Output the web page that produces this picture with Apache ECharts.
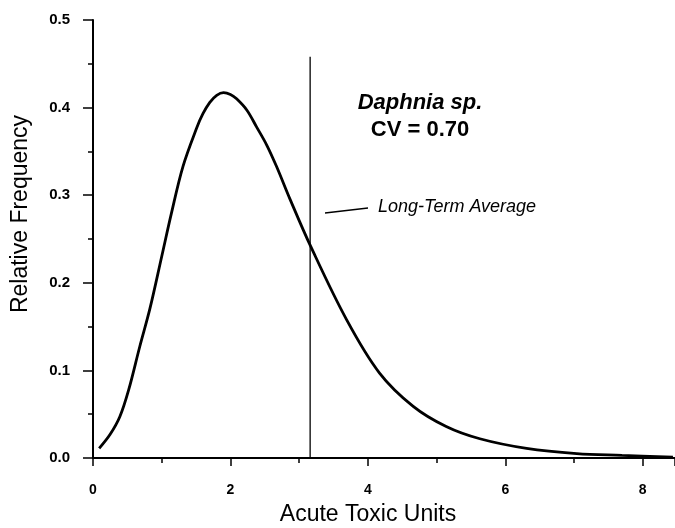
<!DOCTYPE html>
<html><head><meta charset="utf-8">
<script src="https://cdn.jsdelivr.net/npm/echarts@6/dist/echarts.min.js"></script>
<style>html,body{margin:0;padding:0;background:#fff}#c{width:675px;height:528px}</style>
</head><body><div id="c"></div>
<script>
const curveX = [0.09,0.25,0.39,0.52,0.68,0.83,1.0,1.14,1.31,1.51,1.60,1.70,1.80,1.90,2.00,2.09,2.24,2.38,2.53,2.67,2.87,3.16,3.69,4.17,4.66,5.14,5.63,6.31,7.04,7.7,8.44];
const curveY = [0.011,0.027,0.047,0.078,0.127,0.171,0.230,0.279,0.333,0.377,0.393,0.406,0.414,0.417,0.415,0.410,0.397,0.378,0.357,0.333,0.295,0.243,0.158,0.097,0.059,0.036,0.022,0.011,0.005,0.003,0.001];
const avgX = 3.16;
const avgTop = 0.458;
const xTitle = 'Acute Toxic Units';
const yTitle = 'Relative Frequency';
const species = 'Daphnia sp.';
const cvText = 'CV = 0.70';
const avgLabel = 'Long-Term Average';

const chart = echarts.init(document.getElementById('c'));
const curve = curveX.map((x,i)=>[x,curveY[i]]);
chart.setOption({
  animation:false,
  grid:{left:93,top:20,right:0,bottom:70,containLabel:false},
  xAxis:{type:'value',min:0,max:8.47,interval:2,
    axisLine:{lineStyle:{color:'#000',width:2}},
    axisTick:{length:8,lineStyle:{color:'#000',width:1.5}},
    minorTick:{show:true,splitNumber:2,length:5,lineStyle:{color:'#000',width:1.5}},
    splitLine:{show:false},
    axisLabel:{color:'#000',fontFamily:'Liberation Sans',fontWeight:'bold',fontSize:14,margin:25,
      showMaxLabel:false,formatter:v=>Number.isInteger(v)?String(v):''}},
  yAxis:{type:'value',min:0,max:0.5,interval:0.1,
    axisLine:{lineStyle:{color:'#000',width:2}},
    axisTick:{length:10,lineStyle:{color:'#000',width:1.5}},
    minorTick:{show:true,splitNumber:2,length:5,lineStyle:{color:'#000',width:1.5}},
    splitLine:{show:false},
    axisLabel:{color:'#000',fontFamily:'Liberation Sans',fontWeight:'bold',fontSize:15,margin:23,
      formatter:v=>v.toFixed(1)}},
  series:[
    {type:'line',data:curve,smooth:0.35,symbol:'none',lineStyle:{color:'#000',width:2.8}},
    {type:'line',data:[[avgX,0],[avgX,avgTop]],symbol:'none',lineStyle:{color:'#000',width:1.3}}
  ],
  graphic:[
    {type:'text',style:{text:xTitle,x:368,y:515,align:'center',verticalAlign:'middle',font:'23px "Liberation Sans"',fill:'#000'}},
    {type:'text',rotation:Math.PI/2,x:21,y:214,style:{text:yTitle,align:'center',verticalAlign:'middle',font:'23px "Liberation Sans"',fill:'#000'}},
    {type:'text',style:{text:species,x:420,y:103,align:'center',verticalAlign:'middle',font:'italic bold 22px "Liberation Sans"',fill:'#000'}},
    {type:'text',style:{text:cvText,x:420,y:130,align:'center',verticalAlign:'middle',font:'bold 22px "Liberation Sans"',fill:'#000'}},
    {type:'text',style:{text:avgLabel,x:378,y:207,align:'left',verticalAlign:'middle',font:'italic 18px "Liberation Sans"',fill:'#000'}},
    {type:'line',shape:{x1:325,y1:213,x2:368,y2:208},style:{stroke:'#000',lineWidth:1.5}}
  ]
});
</script></body></html>
